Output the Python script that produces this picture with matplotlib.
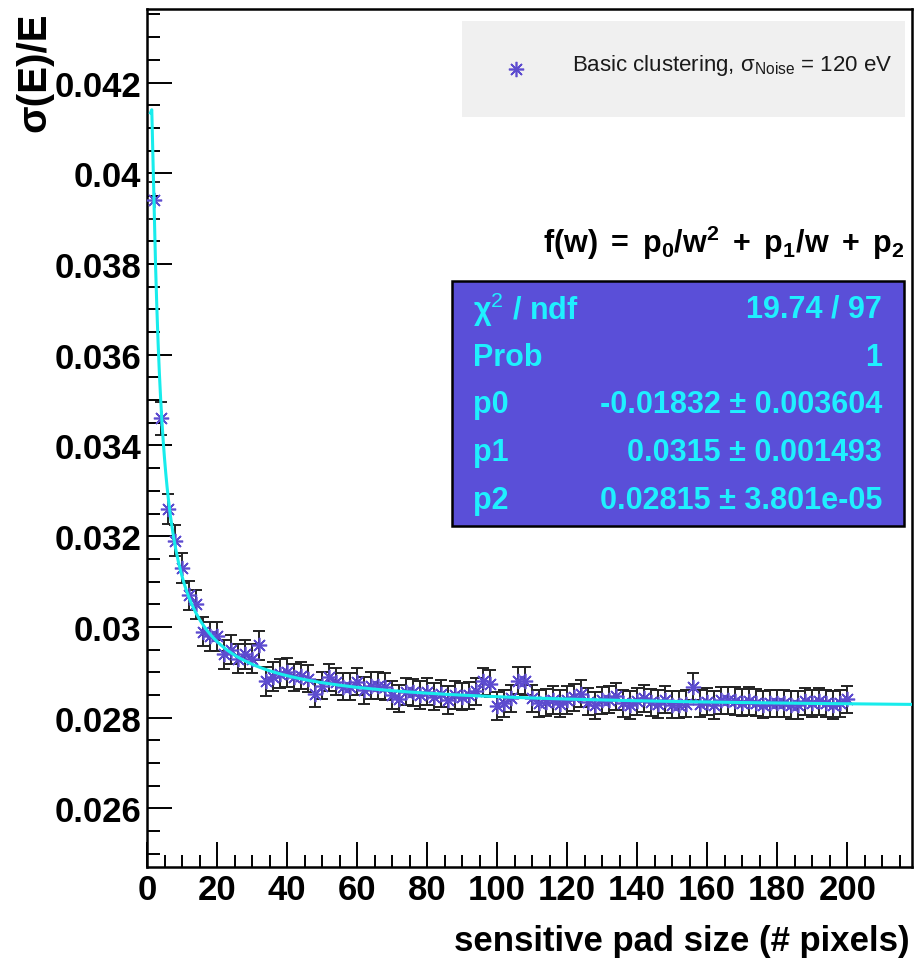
import numpy as np
import matplotlib
matplotlib.use("Agg")
import matplotlib.pyplot as plt
from matplotlib.patches import Rectangle
from matplotlib.lines import Line2D
from matplotlib.ticker import MultipleLocator, FuncFormatter

plt.rcParams['font.family'] = ['Liberation Sans', 'DejaVu Sans']
plt.rcParams['mathtext.fontset'] = 'custom'
plt.rcParams['mathtext.rm'] = 'Liberation Sans'
plt.rcParams['mathtext.bf'] = 'Liberation Sans:bold'
plt.rcParams['mathtext.it'] = 'Liberation Sans:italic'

# pad size (# pixels)
pad_size = np.arange(2, 201, 2)

# sigma(E)/E
resolution = [
    0.0394, 0.0346, 0.0326, 0.0319, 0.0313, 0.0307, 0.0305, 0.0299, 0.0298, 0.0298,
    0.0294, 0.0295, 0.0293, 0.0294, 0.0293, 0.0296, 0.0288, 0.0289, 0.02897, 0.0290,
    0.02889, 0.02893, 0.02886, 0.02853, 0.02871, 0.02889, 0.02879, 0.02868, 0.02868, 0.02879,
    0.0286, 0.02871, 0.02871, 0.02868, 0.0285, 0.02842, 0.02857, 0.02856, 0.0285, 0.02857,
    0.02846, 0.02853, 0.02839, 0.0285, 0.02846, 0.02849, 0.02858, 0.0288, 0.02875, 0.02826,
    0.02832, 0.02843, 0.02882, 0.02881, 0.02843, 0.02832, 0.02834, 0.02839, 0.02831, 0.02839,
    0.02845, 0.02853, 0.02835, 0.02827, 0.02838, 0.0284, 0.02847, 0.02832, 0.02828, 0.02836,
    0.02843, 0.02834, 0.0283, 0.0284, 0.02829, 0.02829, 0.02831, 0.02868, 0.02831, 0.02835,
    0.02828, 0.02838, 0.02838, 0.02837, 0.02833, 0.02837, 0.02833, 0.02829, 0.02832, 0.02832,
    0.02832, 0.02828, 0.02828, 0.02836, 0.02832, 0.02836, 0.02832, 0.02828, 0.02832, 0.02841,
]

# error bars
resolution_err = [
    0.0004, 0.00036, 0.00034, 0.00034, 0.00034, 0.00032, 0.00032, 0.00032, 0.00032, 0.00032,
    0.00032, 0.00032, 0.00032, 0.00032, 0.00032, 0.00032, 0.00032, 0.00032, 0.00032, 0.00032,
    0.0003, 0.0003, 0.0003, 0.0003, 0.0003, 0.0003, 0.0003, 0.0003, 0.0003, 0.0003,
    0.0003, 0.0003, 0.0003, 0.0003, 0.0003, 0.0003, 0.0003, 0.0003, 0.0003, 0.0003,
    0.0003, 0.0003, 0.0003, 0.0003, 0.0003, 0.0003, 0.0003, 0.0003, 0.0003, 0.0003,
    0.0003, 0.0003, 0.0003, 0.0003, 0.0003, 0.0003, 0.0003, 0.0003, 0.0003, 0.0003,
    0.0003, 0.0003, 0.0003, 0.0003, 0.0003, 0.0003, 0.0003, 0.0003, 0.0003, 0.0003,
    0.0003, 0.0003, 0.0003, 0.0003, 0.0003, 0.0003, 0.0003, 0.0003, 0.0003, 0.0003,
    0.0003, 0.0003, 0.0003, 0.0003, 0.0003, 0.0003, 0.0003, 0.0003, 0.0003, 0.0003,
    0.0003, 0.0003, 0.0003, 0.0003, 0.0003, 0.0003, 0.0003, 0.0003, 0.0003, 0.0003,
]

# fit parameters from the stats box
p0 = -0.01832
p1 = 0.0315
p2 = 0.02815

stat_labels = [u'\u03c7$^{2}$ / ndf', 'Prob', 'p0', 'p1', 'p2']
stat_values = ['19.74 / 97', '1', u'-0.01832 \u00b1 0.003604',
               u'0.0315 \u00b1 0.001493', u'0.02815 \u00b1 3.801e-05']

W, H = 921, 970
fig = plt.figure(figsize=(W / 100, H / 100), dpi=100)
fig.patch.set_facecolor('white')

# axes frame in pixels
left, right, top, bottom = 147, 912, 10, 868
ax = fig.add_axes([left / W, 1 - bottom / H, (right - left) / W, (bottom - top) / H])

xmax = 218.5
ax.set_xlim(0, xmax)
ax.set_ylim(0.02471, 0.04362)

# fit curve
w = np.linspace(1, xmax, 600)
ax.plot(w, p0 / w**2 + p1 / w + p2, color='#18ecec', lw=2.2, zorder=5)

# data points
ax.errorbar(pad_size, resolution, yerr=resolution_err, fmt='none',
            ecolor='#222222', elinewidth=1.4, capsize=4, capthick=1.4, zorder=3)
ax.plot(pad_size, resolution, ls='none', marker=(8, 2, 0), markersize=11,
        markeredgewidth=1.2, color='#5d4ccf', zorder=4)

# axis styling (ROOT-like)
for s in ax.spines.values():
    s.set_linewidth(1.8)
ax.xaxis.set_major_locator(MultipleLocator(20))
ax.xaxis.set_minor_locator(MultipleLocator(5))
ax.yaxis.set_major_locator(MultipleLocator(0.002))
ax.yaxis.set_minor_locator(MultipleLocator(0.0005))
ax.tick_params(which='both', direction='in', width=1.4, top=False, right=False)
ax.tick_params(which='major', length=18)
ax.tick_params(which='minor', length=9)
ax.tick_params(axis='y', pad=4)
ax.tick_params(axis='x', pad=4)
ax.yaxis.set_major_formatter(FuncFormatter(lambda v, p: ('%.3f' % v).rstrip('0')))
for lab in ax.get_xticklabels() + ax.get_yticklabels():
    lab.set_fontsize(25)
    lab.set_fontweight('bold')

# axis titles
fig.text(34 / W, 1 - 12 / H, u'\u03c3(E)/E', rotation=90, ha='center', va='top',
         fontsize=29, fontweight='bold')
fig.text(910 / W, 1 - 942 / H, 'sensitive pad size (# pixels)', ha='right', va='center',
         fontsize=25, fontweight='bold')

# legend box
fig.patches.append(Rectangle((462 / W, 1 - 118 / H), (905 - 462) / W, (118 - 22) / H,
                             transform=fig.transFigure, facecolor='#f0f0f0',
                             edgecolor='none', zorder=10))
fig.lines.append(Line2D([516 / W], [1 - 70 / H], transform=fig.transFigure, ls='none',
                        marker=(8, 2, 0), markersize=11, markeredgewidth=1.2,
                        color='#5d4ccf', zorder=11))
fig.text(572 / W, 1 - 66 / H, u'Basic clustering, \u03c3$_{\\mathrm{Noise}}$ = 120 eV',
         ha='left', va='center', fontsize=16, color='#1a1a1a', zorder=11)

# fit formula
fig.text(905 / W, 1 - 243 / H, r'$\mathbf{f(w)\ =\ p_{0}/w^{2}\ +\ p_{1}/w\ +\ p_{2}}$',
         ha='right', va='center', fontsize=22)

# stats box
fig.patches.append(Rectangle((452 / W, 1 - 527 / H), (904 - 452) / W, (527 - 282) / H,
                             transform=fig.transFigure, facecolor='#5a4fd8',
                             edgecolor='black', lw=1.8, zorder=10))
row_y = [310, 358, 405, 453, 501]
for lab, val, yy in zip(stat_labels, stat_values, row_y):
    fig.text(473 / W, 1 - yy / H, lab, ha='left', va='center', fontsize=22,
             fontweight='bold', color='#1ff0ff', zorder=11)
    fig.text(882 / W, 1 - yy / H, val, ha='right', va='center', fontsize=22,
             fontweight='bold', color='#1ff0ff', zorder=11)

fig.savefig('out.png', dpi=100)
